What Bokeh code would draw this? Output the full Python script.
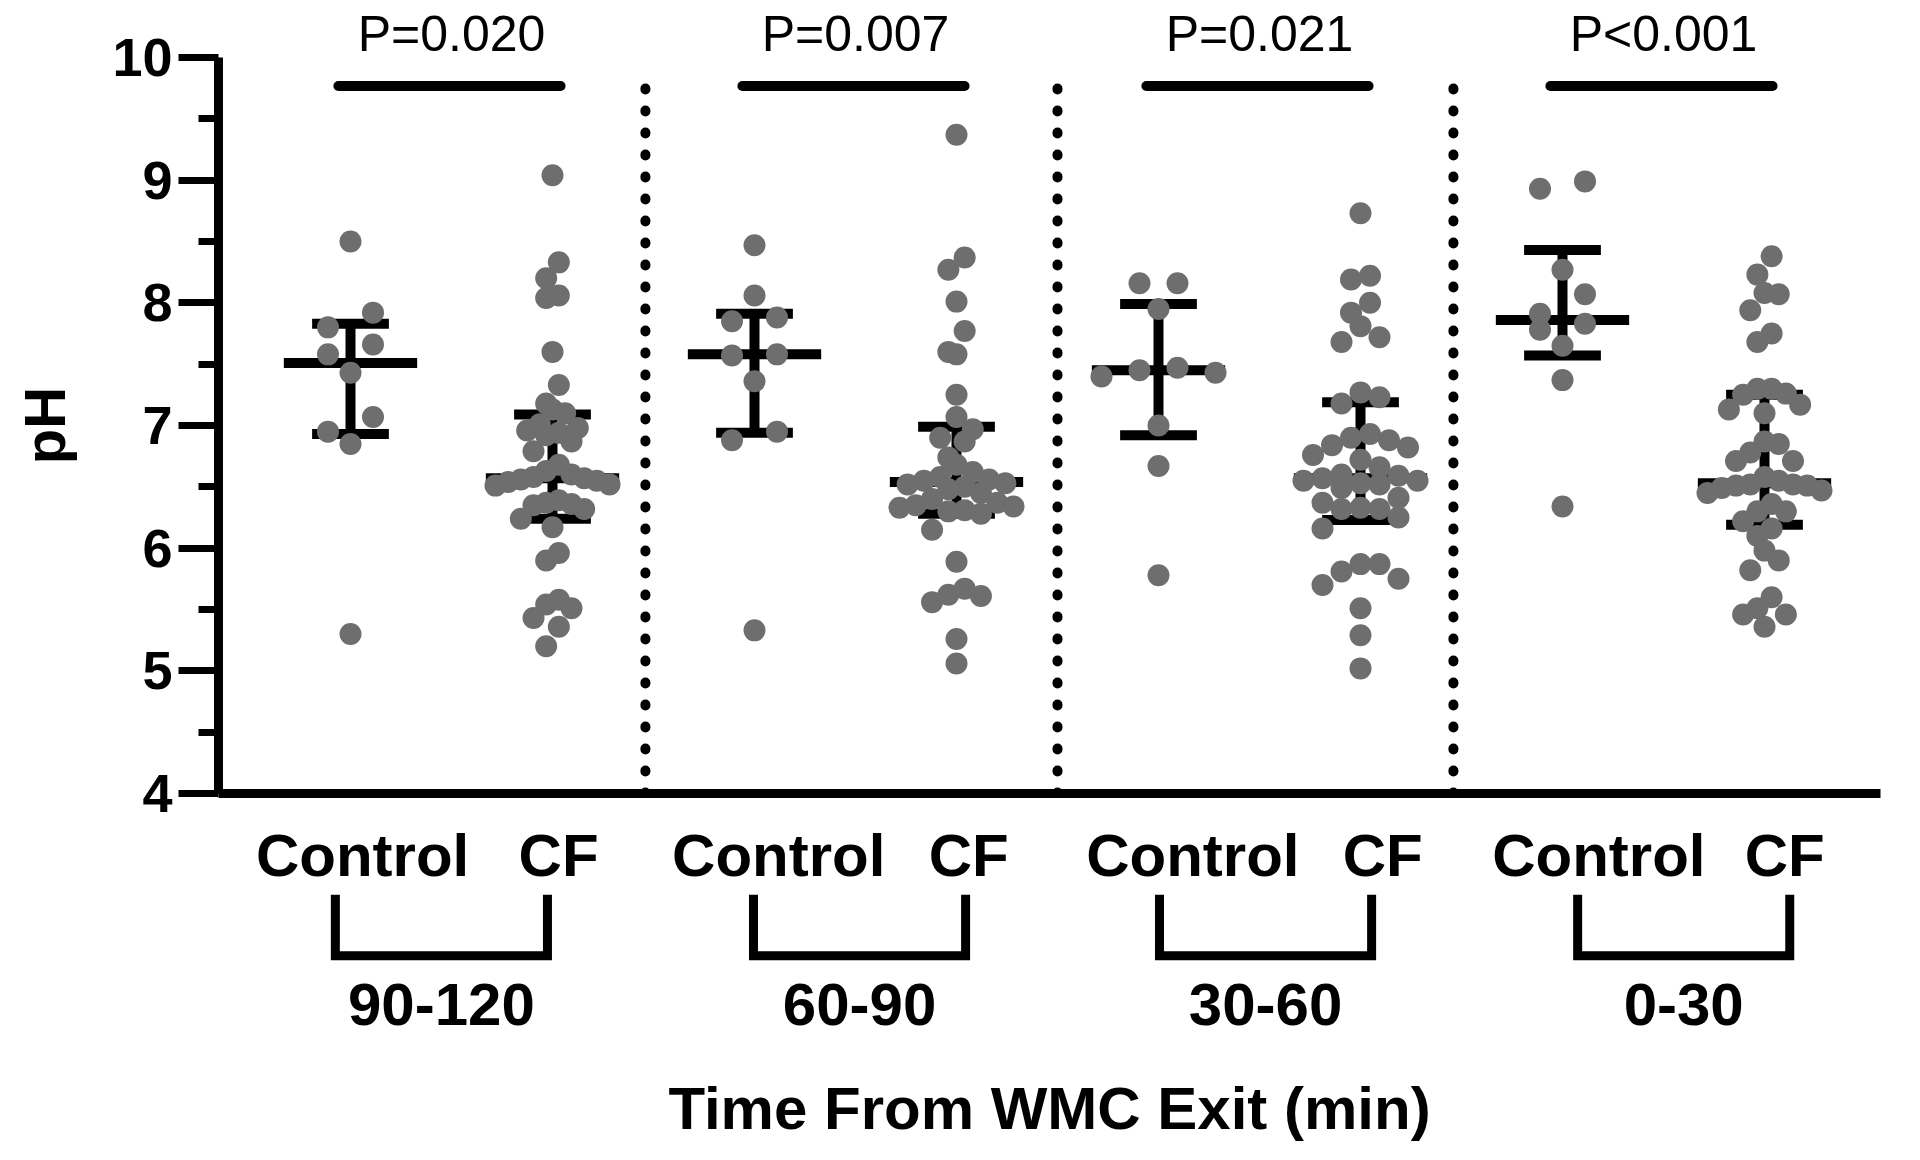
import numpy as np
from bokeh.plotting import figure
from bokeh.models import FixedTicker, Range1d
from bokeh.embed import file_html
from bokeh.resources import INLINE
from bokeh.core.properties import value

# ---------------- data ----------------
groups = ["90-120", "60-90", "30-60", "0-30"]
arms = ["Control", "CF"]
p_labels = ["P=0.020", "P=0.007", "P=0.021", "P<0.001"]
y_ticks = [4, 5, 6, 7, 8, 9, 10]

control_90_120 = [8.50, 7.92, 7.80, 7.66, 7.58, 7.43, 7.07, 6.95, 6.85, 5.30]
cf_90_120 = [9.04, 8.33, 8.20, 8.06, 8.04, 7.60, 7.33, 7.18, 7.13, 7.10, 7.01, 6.98,
             6.96, 6.94, 6.92, 6.87, 6.79, 6.68, 6.63, 6.60, 6.58, 6.57, 6.56, 6.55,
             6.54, 6.52, 6.51, 6.39, 6.37, 6.36, 6.35, 6.32, 6.24, 6.17, 5.96, 5.90,
             5.58, 5.54, 5.51, 5.43, 5.36, 5.20]

control_60_90 = [8.47, 8.06, 7.88, 7.85, 7.58, 7.57, 7.36, 6.95, 6.88, 5.33]
cf_60_90 = [9.37, 8.37, 8.27, 8.01, 7.77, 7.60, 7.58, 7.25, 7.07, 6.97, 6.90, 6.87,
            6.74, 6.68, 6.62, 6.58, 6.56, 6.55, 6.53, 6.52, 6.50, 6.48, 6.45, 6.40,
            6.37, 6.35, 6.34, 6.33, 6.31, 6.30, 6.28, 6.15, 5.89, 5.67, 5.62, 5.61,
            5.56, 5.26, 5.06]

control_30_60 = [8.16, 8.16, 7.95, 7.47, 7.45, 7.43, 7.40, 7.00, 6.67, 5.78]
cf_30_60 = [8.73, 8.22, 8.19, 8.00, 7.92, 7.81, 7.72, 7.68, 7.27, 7.23, 7.18, 6.93,
            6.90, 6.88, 6.84, 6.82, 6.76, 6.72, 6.66, 6.60, 6.59, 6.57, 6.55, 6.55,
            6.53, 6.52, 6.49, 6.41, 6.37, 6.33, 6.32, 6.32, 6.25, 6.16, 5.87, 5.87,
            5.81, 5.75, 5.70, 5.51, 5.29, 5.02]

control_0_30 = [8.99, 8.93, 8.27, 8.07, 7.91, 7.83, 7.78, 7.65, 7.37, 6.34]
cf_0_30 = [8.38, 8.23, 8.08, 8.07, 7.94, 7.75, 7.68, 7.30, 7.30, 7.26, 7.25, 7.17,
           7.13, 7.10, 6.87, 6.85, 6.78, 6.71, 6.71, 6.58, 6.55, 6.52, 6.52, 6.51,
           6.51, 6.49, 6.47, 6.45, 6.36, 6.30, 6.30, 6.22, 6.16, 6.10, 5.98, 5.90,
           5.82, 5.60, 5.51, 5.46, 5.46, 5.36]

# median and interquartile range drawn as the black bars
control_median = [7.51, 7.58, 7.45, 7.86]
control_q1 = [6.93, 6.94, 6.92, 7.57]
control_q3 = [7.83, 7.91, 7.99, 8.43]
cf_median = [6.57, 6.54, 6.57, 6.53]
cf_q1 = [6.24, 6.28, 6.23, 6.19]
cf_q3 = [7.09, 6.99, 7.19, 7.25]

series = [[control_90_120, cf_90_120], [control_60_90, cf_60_90],
          [control_30_60, cf_30_60], [control_0_30, cf_0_30]]

# ---------------- layout ----------------
W, H = 1904, 1144
FRAME_L, FRAME_R, FRAME_T, FRAME_B = 218, 1880, 57, 796
ML, MR, MT, MB = FRAME_L, W - FRAME_R, FRAME_T, H - FRAME_B
FW, FH = FRAME_R - FRAME_L, FRAME_B - FRAME_T
PX_PER_X = 202.0
X0 = -132.0 / PX_PER_X
X1 = X0 + FW / PX_PER_X
Y0, Y1 = 4, 10
PX_PER_Y = FH / (Y1 - Y0)

label_pos = [0.06, 1.03, 2.12, 3.06, 4.17, 5.11, 6.18, 7.10]
bracket_center = [0.45, 2.52, 4.53, 6.60]
separators = [1.46, 3.5, 5.46]

DOT = "#6e6e6e"
FONT = value("Liberation Sans")


def swarm_offsets(vals, row_h=22.0, max_half=57.0, max_step=45.0):
    """Prism-like scatter: points grouped into rows, rows spread symmetrically."""
    order = sorted(range(len(vals)), key=lambda i: -vals[i])
    rows, cur = [], [order[0]]
    for i in order[1:]:
        if (vals[cur[0]] - vals[i]) * PX_PER_Y < row_h:
            cur.append(i)
        else:
            rows.append(cur)
            cur = [i]
    rows.append(cur)
    nmax = max(len(r) for r in rows)
    step = max_step if nmax < 2 else min(max_step, 2 * max_half / (nmax - 1))
    offs = [0.0] * len(vals)
    for r in rows:
        n = len(r)
        pos = [(k - (n - 1) / 2.0) * step for k in range(n)]
        pos = sorted(pos, key=lambda q: (abs(q), -q))
        for i, q in zip(r, pos):
            offs[i] = q / PX_PER_X
    return offs


p = figure(width=W, height=H, output_backend="svg", toolbar_location=None,
           x_range=Range1d(X0, X1), y_range=Range1d(Y0, Y1),
           min_border_left=ML, min_border_right=MR, min_border_top=MT,
           min_border_bottom=MB)
p.outline_line_color = None
p.xgrid.visible = False
p.ygrid.visible = False
p.background_fill_color = "white"
p.border_fill_color = "white"

# separators
for s in separators:
    p.segment(x0=s, y0=4.0, x1=s, y1=9.8, line_color="black", line_width=10,
              line_dash="1 21", line_cap="round")

# bars (median + IQR)
for g in range(4):
    for a, (med, q1, q3) in enumerate([(control_median[g], control_q1[g], control_q3[g]),
                                       (cf_median[g], cf_q1[g], cf_q3[g])]):
        xc = 2 * g + a
        p.segment(x0=[xc, xc - 0.19, xc - 0.19, xc - 0.33],
                  y0=[q1, q1, q3, med],
                  x1=[xc, xc + 0.19, xc + 0.19, xc + 0.33],
                  y1=[q3, q1, q3, med],
                  line_color="black", line_width=10, line_cap="butt")

# dots
xs, ys = [], []
for g in range(4):
    for a in range(2):
        vals = series[g][a]
        offs = swarm_offsets(vals)
        xs += [2 * g + a + o for o in offs]
        ys += list(vals)
p.scatter(xs, ys, size=22, fill_color=DOT, line_color=None)

# significance bars + p-values
for g in range(4):
    p.segment(x0=2 * g - 0.06, y0=9.767, x1=2 * g + 1.04, y1=9.767,
              line_color="black", line_width=10, line_cap="round", level="overlay")
p.text(x=[2 * g + 0.5 for g in range(4)], y=[10.193] * 4, text=p_labels,
       text_font=FONT, text_font_size="50px", text_align="center",
       text_baseline="alphabetic", text_color="black", level="overlay")

# group brackets + group labels
for g in range(4):
    l, r = bracket_center[g] - 0.525, bracket_center[g] + 0.525
    p.line(x=[l, l, r, r], y=[3.175, 2.678, 2.678, 3.175], line_color="black",
           line_width=9, line_join="miter", level="overlay")
p.text(x=bracket_center, y=[2.281] * 4, text=groups, text_font=FONT,
       text_font_size="60px", text_font_style="bold", text_align="center",
       text_baseline="alphabetic", text_color="black", level="overlay")

# axes
ya = p.yaxis[0]
ya.ticker = FixedTicker(ticks=y_ticks, minor_ticks=[t + 0.5 for t in y_ticks[:-1]])
ya.axis_line_width = 9
ya.axis_line_color = "black"
ya.major_tick_line_width = 7
ya.minor_tick_line_width = 7
ya.major_tick_out = 40
ya.major_tick_in = 0
ya.minor_tick_out = 20
ya.minor_tick_in = 0
ya.major_label_standoff = 6
ya.major_label_text_font = "Liberation Sans"
ya.major_label_text_font_style = "bold"
ya.major_label_text_font_size = "54px"
ya.major_label_text_color = "black"
ya.axis_label = "pH"
ya.axis_label_text_font = "Liberation Sans"
ya.axis_label_text_font_style = "bold"
ya.axis_label_text_font_size = "58px"
ya.axis_label_text_color = "black"
ya.axis_label_standoff = 32

xa = p.xaxis[0]
xa.ticker = FixedTicker(ticks=label_pos, minor_ticks=[])
xa.major_label_overrides = {pos: arms[i % 2] for i, pos in enumerate(label_pos)}
xa.axis_line_width = 9
xa.axis_line_color = "black"
xa.major_tick_line_color = None
xa.minor_tick_line_color = None
xa.major_tick_out = 0
xa.major_tick_in = 0
xa.major_label_standoff = 28
xa.major_label_text_font = "Liberation Sans"
xa.major_label_text_font_style = "bold"
xa.major_label_text_font_size = "60px"
xa.major_label_text_color = "black"
xa.axis_label = "Time From WMC Exit (min)"
xa.axis_label_text_font = "Liberation Sans"
xa.axis_label_text_font_style = "bold"
xa.axis_label_text_font_size = "60px"
xa.axis_label_text_color = "black"
xa.axis_label_standoff = 183

open("out.html", "w").write(file_html(p, INLINE))
